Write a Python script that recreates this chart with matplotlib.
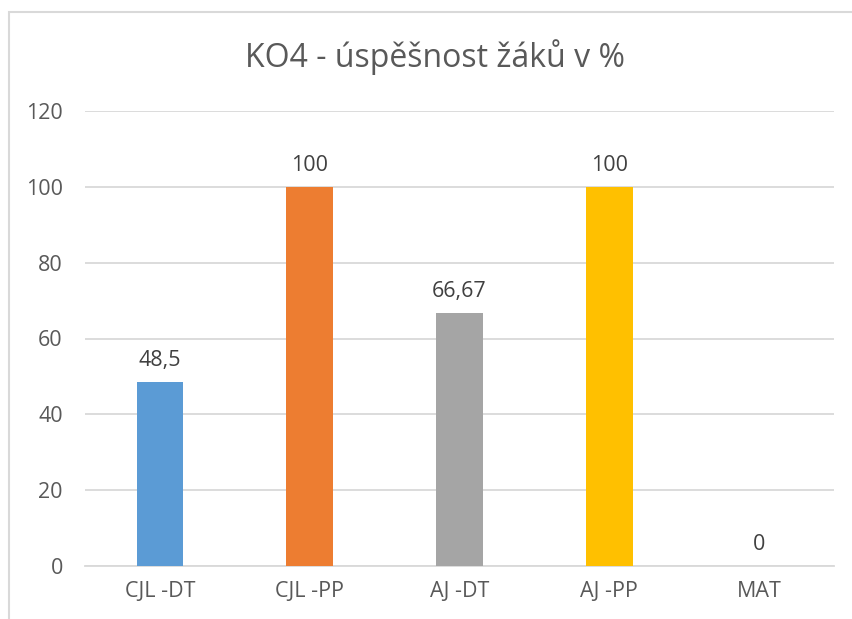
#!/usr/bin/env python3
import matplotlib
matplotlib.use('Agg')
import matplotlib.pyplot as plt
from matplotlib.patches import Rectangle

categories = ['CJL -DT', 'CJL -PP', 'AJ -DT', 'AJ -PP', 'MAT']
values = [48.5, 100, 66.67, 100, 0]
labels = ['48,5', '100', '66,67', '100', '0']
colors = ['#5B9BD5', '#ED7D31', '#A5A5A5', '#FFC000', '#FFFFFF']
yticks = [0, 20, 40, 60, 80, 100, 120]

plt.rcParams['font.family'] = ['Open Sans', 'DejaVu Sans']

W, H = 853, 619
fig = plt.figure(figsize=(W/100, H/100), dpi=100)
ax = fig.add_axes([85/W, 1-566/H, (834-85)/W, (566-111)/H])

x = range(len(categories))
ax.bar(x, values, width=0.31, color=colors, zorder=3)
for i, (v, t) in enumerate(zip(values, labels)):
    ax.annotate(t, (i, v), xytext=(0, 8), textcoords='offset points',
                ha='center', va='bottom', fontsize=15.5, color='#404040')

ax.set_xlim(-0.5, len(categories)-0.5)
ax.set_ylim(0, 120)
ax.set_yticks(yticks)
ax.set_xticks(list(x))
ax.set_xticklabels(categories)
ax.tick_params(axis='both', length=0, labelsize=15.5, labelcolor='#595959')
ax.tick_params(axis='y', pad=16)
ax.tick_params(axis='x', pad=11)
ax.grid(axis='y', color='#D9D9D9', linewidth=1.3, zorder=0)
for s in ['top', 'right', 'left']:
    ax.spines[s].set_visible(False)
ax.spines['bottom'].set_color('#D9D9D9')
ax.spines['bottom'].set_linewidth(1.3)

fig.text(435/W, 1-67/H, 'KO4 - úspěšnost žáků v %', ha='center', va='baseline',
         fontsize=23, color='#595959')

fig.patches.append(Rectangle((9/W, -0.1), 1.0, 1-12/H+0.1, transform=fig.transFigure,
                             fill=False, edgecolor='#D9D9D9', linewidth=1.5))

fig.savefig('out.png', dpi=100)
